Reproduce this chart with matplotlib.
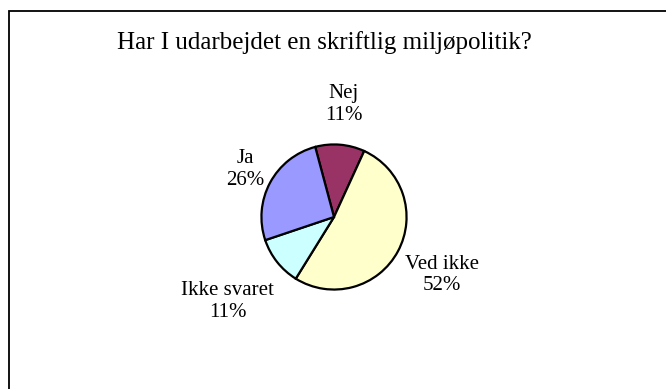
import numpy as np
import matplotlib.pyplot as plt
from matplotlib.patches import Rectangle

# data
kategorier = ["Nej", "Ved ikke", "Ikke svaret", "Ja"]
procenter = [11, 52, 11, 26]
farver = ["#993366", "#FFFFCC", "#CCFFFF", "#9999FF"]
titel = "Har I udarbejdet en skriftlig miljøpolitik?"

# afstand fra centrum til label (i radier)
label_afstand = [1.56, 1.69, 1.87, 1.39]

plt.rcParams["font.family"] = ["Liberation Serif", "DejaVu Serif"]

W, H = 666, 389
fig = plt.figure(figsize=(W / 100, H / 100), dpi=100)

# ramme (kun venstre og top synlig)
fig.patches.append(
    Rectangle((9 / W, -0.2), 1.2, 1.2 - 10.5 / H, transform=fig.transFigure,
              fill=False, edgecolor="black", linewidth=1.3)
)

cx, cy, r = 334, 217, 74
ax = fig.add_axes([(cx - r) / W, (H - cy - r) / H, 2 * r / W, 2 * r / H])
wedges, _ = ax.pie(
    procenter,
    colors=farver,
    startangle=105,
    counterclock=False,
    radius=1,
    wedgeprops={"edgecolor": "black", "linewidth": 1.6},
)
ax.set_xlim(-1.02, 1.02)
ax.set_ylim(-1.02, 1.02)
ax.set_aspect("equal")
ax.axis("off")

for w, navn, p, d in zip(wedges, kategorier, procenter, label_afstand):
    vinkel = np.deg2rad((w.theta1 + w.theta2) / 2)
    ax.text(d * np.cos(vinkel), d * np.sin(vinkel), f"{navn}\n{p}%",
            ha="center", va="center", fontsize=15, linespacing=1.2)

fig.text(324 / W, 1 - 43 / H, titel, ha="center", va="center", fontsize=18)

fig.savefig("out.png", dpi=100)
